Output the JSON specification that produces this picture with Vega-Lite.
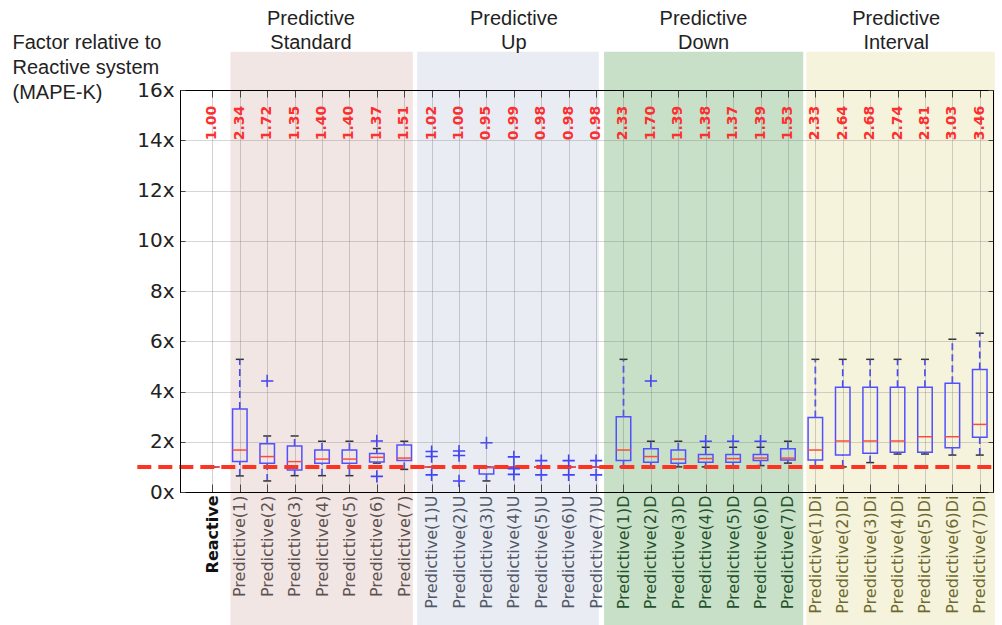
{
  "$schema": "https://vega.github.io/schema/vega-lite/v6.json",
  "width": 813,
  "height": 402,
  "autosize": {"type": "none"},
  "padding": {"left": 180, "top": 90, "right": 9, "bottom": 133},
  "background": "white",
  "config": {"view": {"stroke": "#000000", "strokeWidth": 1}},
  "datasets": {
    "bands": [
      {"g": "Standard", "x0": 1.658, "x1": 8.314, "y0": -5.6, "y1": 17.52},
      {"g": "Up", "x0": 8.47, "x1": 15.1, "y0": -5.6, "y1": 17.52},
      {"g": "Down", "x0": 15.29, "x1": 22.56, "y0": -5.6, "y1": 17.52},
      {"g": "Interval", "x0": 22.67, "x1": 29.55, "y0": -5.6, "y1": 17.52}
    ],
    "ref": [{"x0": -1.74, "x1": 29.55, "v": 1}],
    "boxes": [
      {"i": 1, "lo": 1, "q1": 1, "med": 1, "q3": 1, "hi": 1, "mean": "1.00"},
      {"i": 2, "lo": 0.64, "q1": 1.21, "med": 1.67, "q3": 3.3, "hi": 5.28, "mean": "2.34"},
      {"i": 3, "lo": 0.44, "q1": 1.14, "med": 1.41, "q3": 1.92, "hi": 2.23, "mean": "1.72"},
      {"i": 4, "lo": 0.65, "q1": 0.88, "med": 1.21, "q3": 1.83, "hi": 2.23, "mean": "1.35"},
      {"i": 5, "lo": 0.65, "q1": 1.14, "med": 1.31, "q3": 1.67, "hi": 2.02, "mean": "1.40"},
      {"i": 6, "lo": 0.65, "q1": 1.14, "med": 1.31, "q3": 1.67, "hi": 2.02, "mean": "1.40"},
      {"i": 7, "lo": 1.15, "q1": 1.19, "med": 1.38, "q3": 1.53, "hi": 1.73, "mean": "1.37"},
      {"i": 8, "lo": 0.9, "q1": 1.25, "med": 1.35, "q3": 1.87, "hi": 2.02, "mean": "1.51"},
      {"i": 9, "lo": 1, "q1": 1, "med": 1, "q3": 1, "hi": 1, "mean": "1.02"},
      {"i": 10, "lo": 1, "q1": 1, "med": 1, "q3": 1, "hi": 1, "mean": "1.00"},
      {"i": 11, "lo": 0.44, "q1": 0.72, "med": 0.97, "q3": 1.0, "hi": 1.0, "mean": "0.95"},
      {"i": 12, "lo": 1, "q1": 1, "med": 1, "q3": 1, "hi": 1, "mean": "0.99"},
      {"i": 13, "lo": 1, "q1": 1, "med": 1, "q3": 1, "hi": 1, "mean": "0.98"},
      {"i": 14, "lo": 1, "q1": 1, "med": 1, "q3": 1, "hi": 1, "mean": "0.98"},
      {"i": 15, "lo": 1, "q1": 1, "med": 1, "q3": 1, "hi": 1, "mean": "0.98"},
      {"i": 16, "lo": 1.0, "q1": 1.25, "med": 1.67, "q3": 3.0, "hi": 5.28, "mean": "2.33"},
      {"i": 17, "lo": 1.0, "q1": 1.18, "med": 1.41, "q3": 1.72, "hi": 2.02, "mean": "1.70"},
      {"i": 18, "lo": 1.0, "q1": 1.14, "med": 1.31, "q3": 1.67, "hi": 2.02, "mean": "1.39"},
      {"i": 19, "lo": 1.0, "q1": 1.18, "med": 1.33, "q3": 1.49, "hi": 1.78, "mean": "1.38"},
      {"i": 20, "lo": 1.0, "q1": 1.18, "med": 1.33, "q3": 1.49, "hi": 1.78, "mean": "1.37"},
      {"i": 21, "lo": 1.05, "q1": 1.25, "med": 1.35, "q3": 1.49, "hi": 1.78, "mean": "1.39"},
      {"i": 22, "lo": 1.15, "q1": 1.27, "med": 1.35, "q3": 1.72, "hi": 2.02, "mean": "1.53"},
      {"i": 23, "lo": 1.0, "q1": 1.27, "med": 1.67, "q3": 2.97, "hi": 5.28, "mean": "2.33"},
      {"i": 24, "lo": 1.0, "q1": 1.47, "med": 2.03, "q3": 4.17, "hi": 5.28, "mean": "2.64"},
      {"i": 25, "lo": 1.17, "q1": 1.54, "med": 2.03, "q3": 4.17, "hi": 5.28, "mean": "2.68"},
      {"i": 26, "lo": 1.51, "q1": 1.58, "med": 2.03, "q3": 4.17, "hi": 5.28, "mean": "2.74"},
      {"i": 27, "lo": 1.51, "q1": 1.58, "med": 2.2, "q3": 4.17, "hi": 5.28, "mean": "2.81"},
      {"i": 28, "lo": 1.47, "q1": 1.76, "med": 2.2, "q3": 4.33, "hi": 6.08, "mean": "3.03"},
      {"i": 29, "lo": 1.47, "q1": 2.18, "med": 2.69, "q3": 4.88, "hi": 6.32, "mean": "3.46"}
    ],
    "outliers": [
      {"i": 3, "v": 4.42},
      {"i": 7, "v": 2.03}, {"i": 7, "v": 0.62},
      {"i": 9, "v": 1.61}, {"i": 9, "v": 1.41}, {"i": 9, "v": 0.68},
      {"i": 10, "v": 1.63}, {"i": 10, "v": 1.45}, {"i": 10, "v": 0.44},
      {"i": 11, "v": 1.96},
      {"i": 12, "v": 1.4}, {"i": 12, "v": 0.93}, {"i": 12, "v": 0.7},
      {"i": 13, "v": 1.25}, {"i": 13, "v": 0.68},
      {"i": 14, "v": 1.25}, {"i": 14, "v": 0.68},
      {"i": 15, "v": 1.25}, {"i": 15, "v": 0.68},
      {"i": 17, "v": 4.42},
      {"i": 19, "v": 2.02},
      {"i": 20, "v": 2.02},
      {"i": 21, "v": 2.02}
    ],
    "titles": [
      {"x": 4.595, "t": "Predictive\nStandard"},
      {"x": 12.0, "t": "Predictive\nUp"},
      {"x": 18.92, "t": "Predictive\nDown"},
      {"x": 25.95, "t": "Predictive\nInterval"}
    ]
  },
  "resolve": {"axis": {"x": "independent", "y": "independent"}},
  "layer": [
    {
      "data": {"name": "bands"},
      "mark": {"type": "rect", "clip": false},
      "encoding": {
        "x": {
          "field": "x0", "type": "quantitative",
          "scale": {"domain": [0, 29.3], "nice": false, "zero": false},
          "axis": {
            "orient": "bottom",
            "values": [1,2,3,4,5,6,7,8,9,10,11,12,13,14,15,16,17,18,19,20,21,22,23,24,25,26,27,28,29],
            "labelExpr": "['Reactive','Predictive(1)','Predictive(2)','Predictive(3)','Predictive(4)','Predictive(5)','Predictive(6)','Predictive(7)','Predictive(1)U','Predictive(2)U','Predictive(3)U','Predictive(4)U','Predictive(5)U','Predictive(6)U','Predictive(7)U','Predictive(1)D','Predictive(2)D','Predictive(3)D','Predictive(4)D','Predictive(5)D','Predictive(6)D','Predictive(7)D','Predictive(1)Di','Predictive(2)Di','Predictive(3)Di','Predictive(4)Di','Predictive(5)Di','Predictive(6)Di','Predictive(7)Di'][datum.value-1]",
            "labelAngle": 270,
            "labelFont": "DejaVu Sans",
            "labelFontSize": 16,
            "labelColor": {"condition": [
              {"test": "datum.value == 1", "value": "#111111"},
              {"test": "datum.value <= 8", "value": "#5e5252"},
              {"test": "datum.value <= 15", "value": "#525868"},
              {"test": "datum.value <= 22", "value": "#25522b"}
            ], "value": "#6e6a2e"},
            "labelFontWeight": {"condition": {"test": "datum.value == 1", "value": "bold"}, "value": "normal"},
            "labelPadding": 11,
            "labelOverlap": false,
            "labelBound": false,
            "labelFlush": false,
            "tickSize": -8,
            "tickColor": "#444444",
            "grid": true,
            "gridColor": "#777777",
            "gridOpacity": 0.33,
            "domainColor": "#000000",
            "title": null,
            "zindex": 1
          }
        },
        "x2": {"field": "x1"},
        "y": {
          "field": "y0", "type": "quantitative",
          "scale": {"domain": [0, 16], "nice": false, "zero": false},
          "axis": {
            "orient": "left",
            "values": [0, 2, 4, 6, 8, 10, 12, 14, 16],
            "labelExpr": "datum.value + 'x'",
            "labelFont": "DejaVu Sans",
            "labelFontSize": 20,
            "labelColor": "#222222",
            "labelPadding": 11,
            "labelOverlap": false,
            "labelFlush": false,
            "labelBound": false,
            "tickSize": -5,
            "tickColor": "#444444",
            "grid": true,
            "gridColor": "#777777",
            "gridOpacity": 0.3,
            "domainColor": "#000000",
            "title": ["Factor relative to", "Reactive system", "(MAPE-K)"],
            "titleAngle": 0,
            "titleAlign": "left",
            "titleBaseline": "alphabetic",
            "titleX": -168,
            "titleY": -42,
            "titleFont": "Liberation Sans",
            "titleFontSize": 20,
            "titleFontWeight": "normal",
            "titleColor": "#222222",
            "titleLineHeight": 25,
            "zindex": 1
          }
        },
        "y2": {"field": "y1"},
        "color": {
          "field": "g", "type": "nominal",
          "scale": {"domain": ["Standard", "Up", "Down", "Interval"], "range": ["#f2e6e4", "#e9ecf3", "#c8e0c8", "#f6f3dc"]},
          "legend": null
        }
      }
    },
    {
      "data": {"name": "boxes"},
      "mark": {"type": "rule", "color": "#4848ff", "strokeWidth": 1.7, "strokeDash": [7, 4]},
      "encoding": {
        "x": {"field": "i", "type": "quantitative", "scale": {"domain": [0, 29.3], "nice": false, "zero": false}, "axis": null},
        "y": {"field": "q3", "type": "quantitative", "scale": {"domain": [0, 16], "nice": false, "zero": false}, "axis": null},
        "y2": {"field": "hi"}
      }
    },
    {
      "data": {"name": "boxes"},
      "mark": {"type": "rule", "color": "#4848ff", "strokeWidth": 1.7, "strokeDash": [7, 4]},
      "encoding": {
        "x": {"field": "i", "type": "quantitative", "scale": {"domain": [0, 29.3], "nice": false, "zero": false}, "axis": null},
        "y": {"field": "lo", "type": "quantitative", "scale": {"domain": [0, 16], "nice": false, "zero": false}, "axis": null},
        "y2": {"field": "q1"}
      }
    },
    {
      "data": {"name": "boxes"},
      "mark": {"type": "tick", "orient": "horizontal", "color": "#333333", "size": 8, "thickness": 1.5, "opacity": 1},
      "encoding": {
        "x": {"field": "i", "type": "quantitative", "scale": {"domain": [0, 29.3], "nice": false, "zero": false}, "axis": null},
        "y": {"field": "hi", "type": "quantitative", "scale": {"domain": [0, 16], "nice": false, "zero": false}, "axis": null}
      }
    },
    {
      "data": {"name": "boxes"},
      "mark": {"type": "tick", "orient": "horizontal", "color": "#333333", "size": 8, "thickness": 1.5, "opacity": 1},
      "encoding": {
        "x": {"field": "i", "type": "quantitative", "scale": {"domain": [0, 29.3], "nice": false, "zero": false}, "axis": null},
        "y": {"field": "lo", "type": "quantitative", "scale": {"domain": [0, 16], "nice": false, "zero": false}, "axis": null}
      }
    },
    {
      "data": {"name": "boxes"},
      "mark": {"type": "bar", "size": 14.5, "fillOpacity": 0, "stroke": "#5050ff", "strokeWidth": 1.5},
      "encoding": {
        "x": {"field": "i", "type": "quantitative", "scale": {"domain": [0, 29.3], "nice": false, "zero": false}, "axis": null},
        "y": {"field": "q1", "type": "quantitative", "scale": {"domain": [0, 16], "nice": false, "zero": false}, "axis": null},
        "y2": {"field": "q3"}
      }
    },
    {
      "data": {"name": "boxes"},
      "mark": {"type": "tick", "orient": "horizontal", "color": "#ff4a3a", "size": 14.5, "thickness": 1.5, "opacity": 1},
      "encoding": {
        "x": {"field": "i", "type": "quantitative", "scale": {"domain": [0, 29.3], "nice": false, "zero": false}, "axis": null},
        "y": {"field": "med", "type": "quantitative", "scale": {"domain": [0, 16], "nice": false, "zero": false}, "axis": null}
      }
    },
    {
      "data": {"name": "ref"},
      "mark": {"type": "rule", "clip": false, "color": "#ff3322", "strokeWidth": 4, "strokeDash": [14, 7]},
      "encoding": {
        "x": {
          "field": "x0", "type": "quantitative",
          "scale": {"domain": [0, 29.3], "nice": false, "zero": false},
          "axis": {
            "orient": "top",
            "values": [1,2,3,4,5,6,7,8,9,10,11,12,13,14,15,16,17,18,19,20,21,22,23,24,25,26,27,28,29],
            "labels": false,
            "tickSize": -7,
            "tickColor": "#444444",
            "grid": false,
            "domainColor": "#000000",
            "title": null,
            "zindex": 1
          }
        },
        "x2": {"field": "x1"},
        "y": {
          "field": "v", "type": "quantitative",
          "scale": {"domain": [0, 16], "nice": false, "zero": false},
          "axis": {
            "orient": "right",
            "values": [0, 2, 4, 6, 8, 10, 12, 14, 16],
            "labels": false,
            "tickSize": -5,
            "tickColor": "#444444",
            "grid": false,
            "domainColor": "#000000",
            "title": null,
            "zindex": 1
          }
        }
      }
    },
    {
      "data": {"name": "outliers"},
      "mark": {"type": "point", "shape": "M-1,0H1M0,-1V1", "size": 150, "filled": false, "color": "#4040ff", "strokeWidth": 1.6, "opacity": 1},
      "encoding": {
        "x": {"field": "i", "type": "quantitative", "scale": {"domain": [0, 29.3], "nice": false, "zero": false}, "axis": null},
        "y": {"field": "v", "type": "quantitative", "scale": {"domain": [0, 16], "nice": false, "zero": false}, "axis": null}
      }
    },
    {
      "data": {"name": "boxes"},
      "mark": {"type": "text", "angle": 270, "align": "left", "baseline": "middle", "font": "DejaVu Sans", "fontSize": 14, "fontWeight": "bold", "color": "#ff2d2d", "clip": false},
      "encoding": {
        "x": {"field": "i", "type": "quantitative", "scale": {"domain": [0, 29.3], "nice": false, "zero": false}, "axis": null},
        "y": {"datum": 14, "type": "quantitative", "scale": {"domain": [0, 16], "nice": false, "zero": false}, "axis": null},
        "text": {"field": "mean", "type": "nominal"}
      }
    },
    {
      "data": {"name": "titles"},
      "mark": {"type": "text", "align": "center", "baseline": "alphabetic", "font": "Liberation Sans", "fontSize": 20, "lineHeight": 24, "lineBreak": "\n", "color": "#222222", "clip": false},
      "encoding": {
        "x": {"field": "x", "type": "quantitative", "scale": {"domain": [0, 29.3], "nice": false, "zero": false}, "axis": null},
        "y": {"datum": 18.59, "type": "quantitative", "scale": {"domain": [0, 16], "nice": false, "zero": false}, "axis": null},
        "text": {"field": "t", "type": "nominal"}
      }
    }
  ]
}
